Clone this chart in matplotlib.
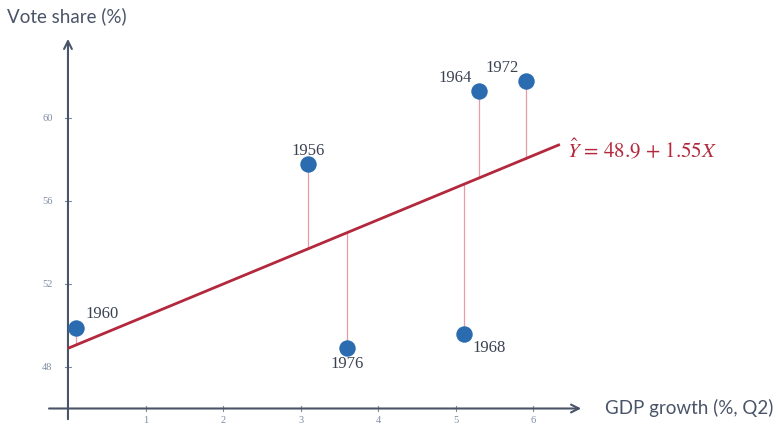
import matplotlib.pyplot as plt
import numpy as np

# Data
years = ['1956', '1960', '1964', '1968', '1972', '1976']
gdp_growth = [3.1, 0.1, 5.3, 5.1, 5.9, 3.6]
vote_share = [57.8, 49.9, 61.3, 49.6, 61.8, 48.9]
intercept = 48.9
slope = 1.55
x_ticks = [1, 2, 3, 4, 5, 6]
y_ticks = [48, 52, 56, 60]

axis_col = '#4a5468'
tick_col = '#7e8ca2'
point_col = '#2b6cb0'
line_col = '#b3283c'
resid_col = '#e89aa6'

fig = plt.figure(figsize=(7.81, 4.28), dpi=100)
ax = fig.add_axes([0, 0, 1, 1])
ax.set_xlim(-0.876, 9.19)
ax.set_ylim(45.06, 65.69)
ax.axis('off')

# axes drawn by hand, crossing at (0, 46)
ax.annotate('', xy=(6.65, 46), xytext=(-0.28, 46),
            arrowprops=dict(arrowstyle='->', color=axis_col, lw=1.5, mutation_scale=14))
ax.annotate('', xy=(0, 63.95), xytext=(0, 45.35),
            arrowprops=dict(arrowstyle='->', color=axis_col, lw=1.5, mutation_scale=14))

for t in x_ticks:
    ax.plot([t, t], [45.88, 46.12], color=tick_col, lw=0.8)
    ax.text(t, 45.4, str(t), ha='center', va='center', fontsize=7.5,
            family='Liberation Serif', color=tick_col)
for t in y_ticks:
    ax.plot([-0.04, 0.04], [t, t], color=tick_col, lw=0.8)
    ax.text(-0.2, t, str(t), ha='right', va='center', fontsize=7.5,
            family='Liberation Serif', color=tick_col)

ax.text(-0.78, 64.9, 'Vote share (%)', ha='left', va='center', fontsize=13.5,
        family='Lato', color=axis_col)
ax.text(6.92, 46.02, 'GDP growth (%, Q2)', ha='left', va='center', fontsize=13.5,
        family='Lato', color=axis_col)

# regression line
xs = np.array([0, 6.34])
ax.plot(xs, intercept + slope * xs, color=line_col, lw=2, solid_capstyle='butt', zorder=3)
plt.rcParams['mathtext.fontset'] = 'stix'
ax.text(6.43, 58.45, r'$\hat{Y}$ = 48.9 + 1.55$X$',
        ha='left', va='center', fontsize=15, family='STIXGeneral', color=line_col)

# residuals
for x, y in zip(gdp_growth, vote_share):
    ax.plot([x, x], [y, intercept + slope * x], color=resid_col, lw=0.9, zorder=2)

ax.scatter(gdp_growth, vote_share, s=140, color=point_col, zorder=4, linewidths=0)

label_pos = {
    '1956': (0, 9, 'center'),
    '1960': (7, 9.5, 'left'),
    '1964': (-5, 9.5, 'right'),
    '1968': (6.5, -10, 'left'),
    '1972': (-5, 9.5, 'right'),
    '1976': (0, -11, 'center'),
}
for yr, x, y in zip(years, gdp_growth, vote_share):
    dx, dy, ha = label_pos[yr]
    ax.annotate(yr, (x, y), xytext=(dx, dy), textcoords='offset points',
                ha=ha, va='center', fontsize=12, family='Liberation Serif', color='#3a4252')

fig.savefig('out.png', dpi=100)
